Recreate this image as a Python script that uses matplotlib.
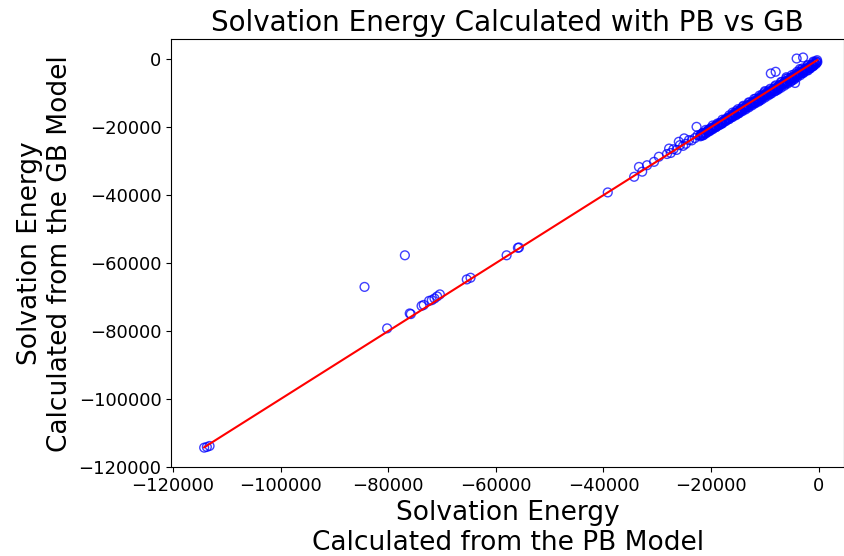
import matplotlib
matplotlib.use("Agg")
from matplotlib import pyplot as plt

# outliers and sparse points (PB on x, GB on y)
pb_sparse = [-114200, -113700, -113200, -84400, -76900, -80200, -76000, -75800,
             -73800, -73400, -72400, -71900, -71400, -70900, -70400,
             -65400, -64700, -58000, -55900, -55700,
             -39200, -34300, -33400, -32800, -31900, -30600, -29700,
             -27800, -26000, -25000, -22700, -8900, -8000, -4100, -2900, -4400]
gb_sparse = [-114300, -114100, -113800, -67000, -57700, -79200, -74800, -75000,
             -72600, -72300, -71100, -70900, -70400, -69800, -69200,
             -64800, -64300, -57700, -55500, -55400,
             -39200, -34600, -31700, -33100, -31200, -30200, -28700,
             -26300, -24300, -23300, -19900, -4200, -3700, 200, 500, -7000]

# dense band near the diagonal
pb_dense = [-28200, -27500, -27000, -26400, -25800, -25200, -24700, -24100, -23600,
            -23000, -22500, -22000, -21500, -21000, -20600, -20100, -19700, -19200,
            -18800, -18300, -17900, -17400, -17000, -16600, -16100, -15700, -15300,
            -14900, -14500, -14100, -13700, -13300, -12900, -12500, -12100, -11700,
            -11300, -10900, -10500, -10100, -9700, -9300, -8900, -8500, -8100, -7700,
            -7300, -6900, -6500, -6100, -5700, -5300, -4900, -4500, -4100, -3700,
            -3300, -2900, -2500, -2100, -1700, -1300, -900, -500, -300,
            -9000, -7500, -6000, -4500, -3000, -1500, -12000, -15000, -18000,
            -2000, -1000, -5000, -8000, -11000, -6000, -10000, -3500]
gb_dense = [-27900, -27600, -26500, -26700, -25300, -25500, -24900, -23800, -23900,
            -23200, -22400, -22300, -21700, -20800, -20900, -20300, -19500, -19600,
            -18900, -18700, -17800, -17800, -17300, -16500, -16600, -15900, -15200,
            -15300, -14700, -14000, -14100, -13500, -12800, -12900, -12400, -11600,
            -11800, -11100, -10400, -10600, -9900, -9200, -9400, -8800, -8000, -8200,
            -7600, -6800, -7000, -6400, -5600, -5800, -5200, -4400, -4600, -4000,
            -3200, -3400, -2800, -2000, -2200, -1600, -900, -600, -300,
            -10200, -8700, -7100, -5600, -4100, -2600, -13000, -16000, -19000,
            -3300, -2000, -6300, -9300, -12200, -5300, -9400, -2900]

# lower side of the band (GB a bit below PB)
pb_band = [-22000, -21700, -21400, -21100, -20800, -20500, -20200, -19900, -19600,
           -19300, -19000, -18700, -18400, -18100, -17800, -17500, -17200, -16900,
           -16600, -16300, -16000, -15700, -15400, -15100, -14800, -14500, -14200,
           -13900, -13600, -13300, -13000, -12700, -12400, -12100, -11800, -11500,
           -11200, -10900, -10600, -10300, -10000, -9700, -9400, -9100, -8800,
           -8500, -8200, -7900, -7600, -7300, -7000, -6700, -6400, -6100, -5800,
           -5500, -5200, -4900, -4600, -4300, -4000, -3700, -3400, -3100, -2800,
           -2500, -2200, -1900, -1600, -1300, -1000, -700, -400]
gb_band = [-22700, -21900, -22300, -21600, -21500, -20900, -21000, -20300, -20400,
           -19800, -19900, -19100, -19300, -18600, -18700, -18000, -18100, -17400,
           -17600, -16800, -17000, -16200, -16500, -15600, -15900, -15000, -15300,
           -14400, -14800, -13800, -14200, -13200, -13600, -12600, -13000, -12000,
           -12500, -11400, -11900, -10800, -11300, -10200, -10700, -9600, -10100,
           -9000, -9500, -8400, -9000, -7800, -8400, -7200, -7800, -6600, -7200,
           -6000, -6600, -5400, -6000, -4800, -5300, -4200, -4700, -3600, -4000,
           -3000, -3300, -2400, -2700, -1800, -2000, -1200, -1100]

# middle of the band
pb_mid = [-21850, -21550, -21250, -20950, -20650, -20350, -20050, -19750, -19450,
          -19150, -18850, -18550, -18250, -17950, -17650, -17350, -17050, -16750,
          -16450, -16150, -15850, -15550, -15250, -14950, -14650, -14350, -14050,
          -13750, -13450, -13150, -12850, -12550, -12250, -11950, -11650, -11350,
          -11050, -10750, -10450, -10150, -9850, -9550, -9250, -8950, -8650, -8350,
          -8050, -7750, -7450, -7150, -6850, -6550, -6250, -5950, -5650, -5350,
          -5050, -4750, -4450, -4150, -3850, -3550, -3250, -2950, -2650, -2350,
          -2050, -1750, -1450, -1150, -850, -550, -250]
gb_mid = [-22450, -22450, -21850, -21850, -21250, -21250, -20650, -20650, -20050,
          -20050, -19450, -19450, -18850, -18850, -18250, -18250, -17650, -17650,
          -17050, -17050, -16450, -16450, -15850, -15850, -15250, -15250, -14650,
          -14650, -14050, -14050, -13450, -13450, -12850, -12850, -12250, -12250,
          -11650, -11650, -11050, -11050, -10450, -10450, -9850, -9850, -9250, -9250,
          -8650, -8650, -8050, -8050, -7450, -7450, -6850, -6850, -6250, -6250,
          -5650, -5650, -5050, -5050, -4450, -4450, -3850, -3850, -3250, -3250,
          -2650, -2650, -2050, -2050, -1450, -1450, -850]

# upper edge, just above the diagonal
pb_top = [-16000, -15000, -14000, -13000, -12000, -11000, -10000, -9000,
          -8000, -7000, -6000, -5000, -4000, -3000, -2000, -1000]
gb_top = [-15700, -14700, -13700, -12700, -11700, -10700, -9700, -8700,
          -7700, -6700, -5700, -4700, -3700, -2700, -1700, -700]

pb = pb_sparse + pb_dense + pb_band + pb_mid + pb_top
gb = gb_sparse + gb_dense + gb_band + gb_mid + gb_top

line_ends = [min(pb), max(pb)]

fig = plt.figure(figsize=(8.44, 5.56), dpi=100)
ax = fig.add_axes([0.203, 0.16, 0.797, 0.769])

ax.scatter(pb, gb, facecolors='none', edgecolors='blue', alpha=0.75, s=40)
ax.plot(line_ends, line_ends, color='red', linewidth=1.5)

ax.set_xlim(-120300, 4700)
ax.set_ylim(-120000, 5800)
ax.set_xticks([-120000, -100000, -80000, -60000, -40000, -20000, 0])
ax.set_yticks([-120000, -100000, -80000, -60000, -40000, -20000, 0])
ax.tick_params(labelsize=13)

ax.set_title("Solvation Energy Calculated with PB vs GB", fontsize=20)
ax.set_xlabel("Solvation Energy\nCalculated from the PB Model", fontsize=19)
ax.set_ylabel("Solvation Energy\nCalculated from the GB Model", fontsize=19)

fig.savefig("out.png", dpi=100)
